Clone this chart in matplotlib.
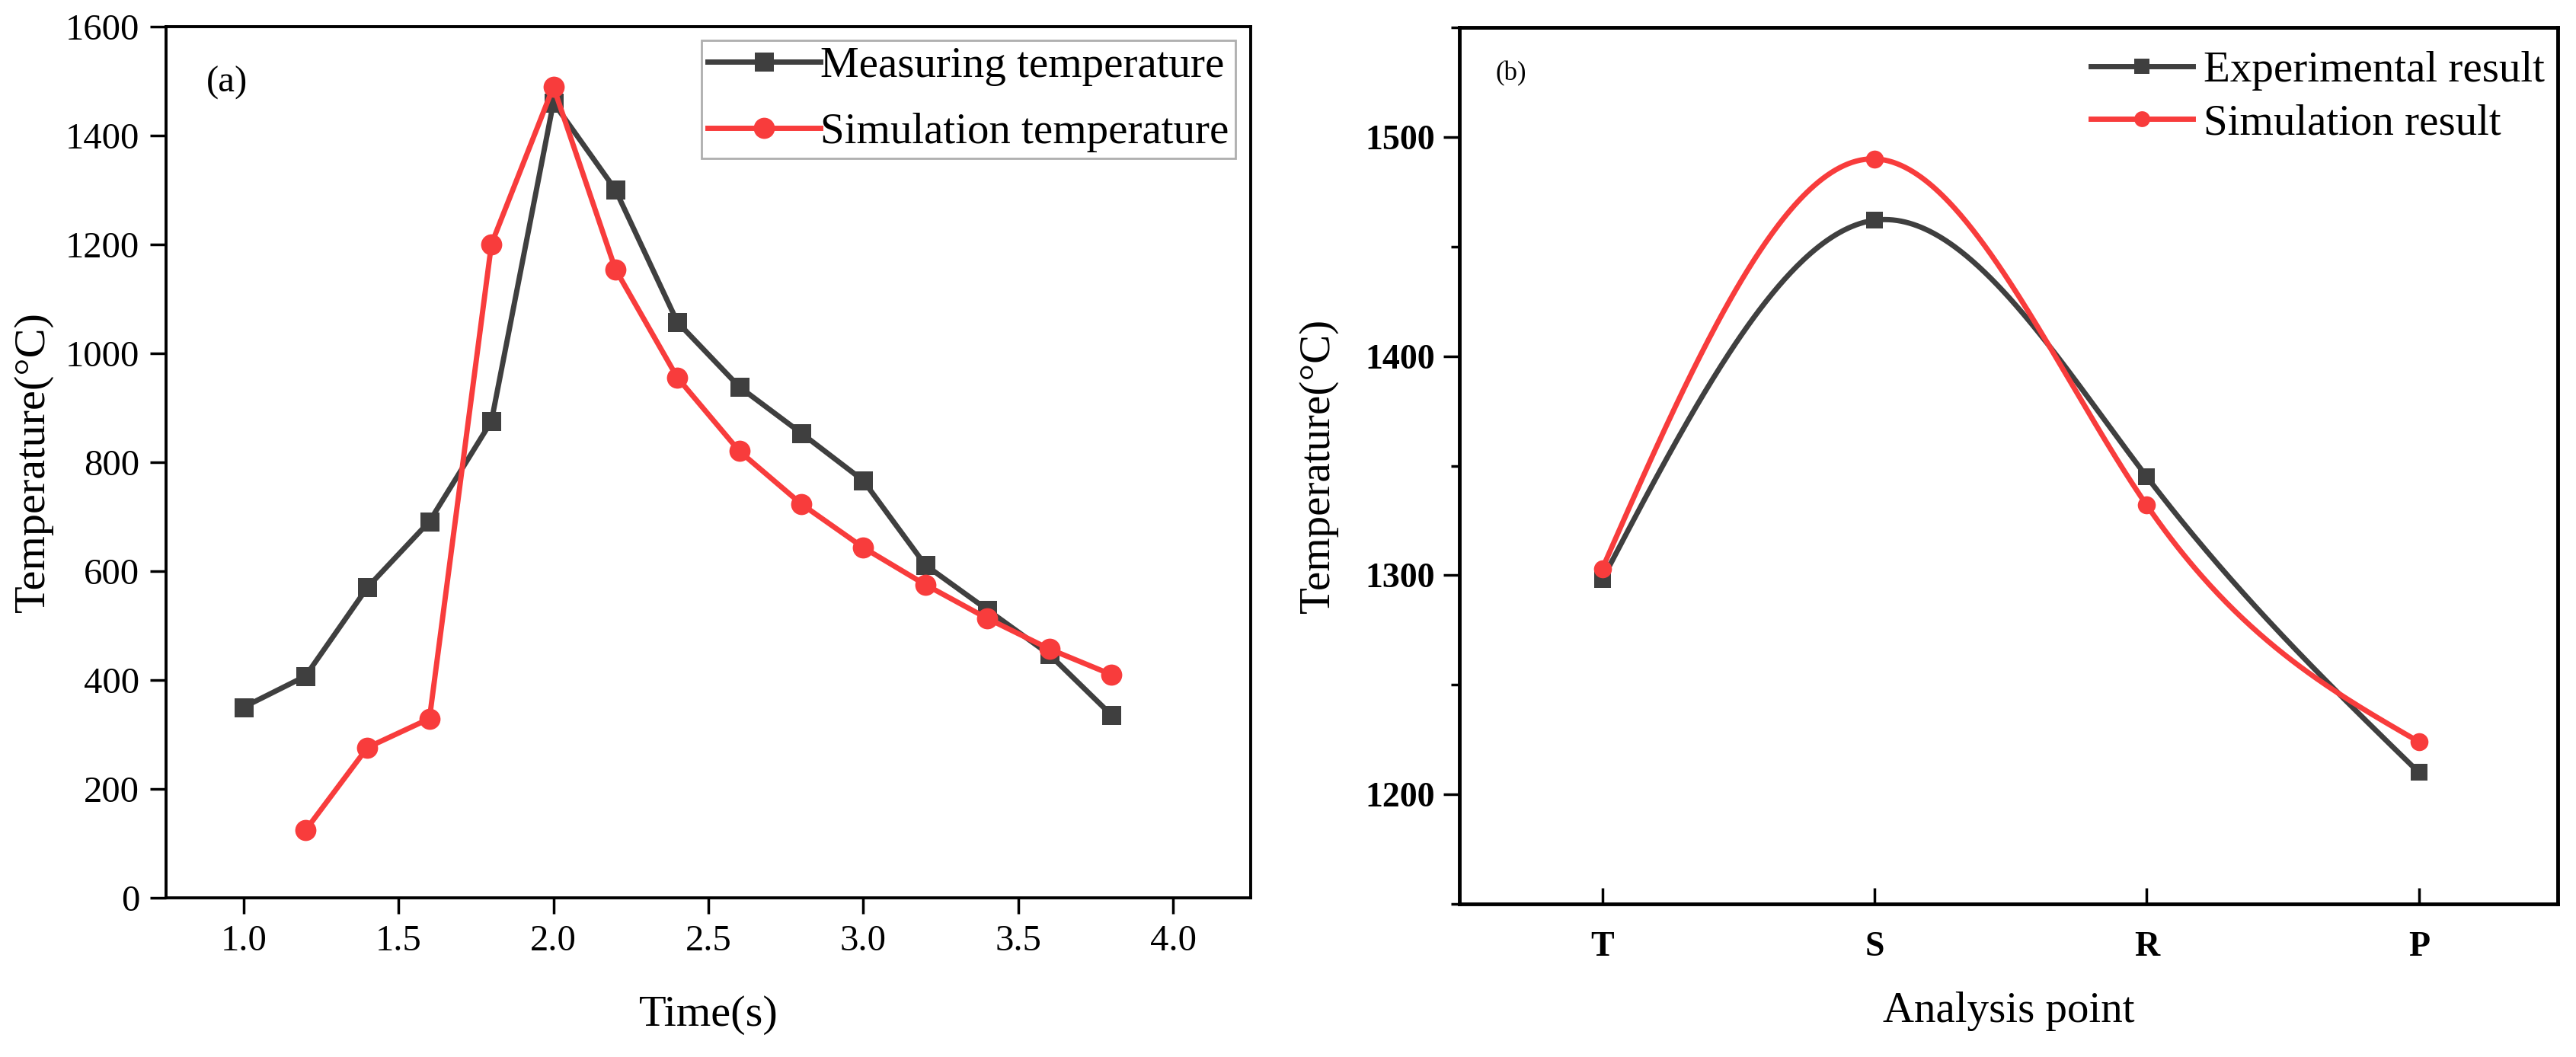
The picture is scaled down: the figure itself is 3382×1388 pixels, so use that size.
import numpy as np
import matplotlib
matplotlib.use("Agg")
import matplotlib.pyplot as plt
from matplotlib.lines import Line2D
from matplotlib.ticker import MultipleLocator

plt.rcParams['font.family'] = ['Liberation Serif', 'DejaVu Serif']
plt.rcParams['mathtext.fontset'] = 'stix'

# ---------------- data ----------------
time_meas = [1.0, 1.2, 1.4, 1.6, 1.8, 2.0, 2.2, 2.4, 2.6, 2.8, 3.0, 3.2, 3.4, 3.6, 3.8]
temp_meas = [350, 407, 570, 691, 875, 1460, 1300, 1057, 938, 853, 766, 611, 529, 447, 336]
time_sim = [1.2, 1.4, 1.6, 1.8, 2.0, 2.2, 2.4, 2.6, 2.8, 3.0, 3.2, 3.4, 3.6, 3.8]
temp_sim = [124, 276, 329, 1200, 1489, 1154, 955, 820, 723, 643, 575, 513, 457, 410]

points = ['T', 'S', 'R', 'P']
exp_result = [1298, 1462, 1345, 1210]
sim_result = [1303, 1490, 1332, 1224]

left_ticks_x = [1.0, 1.5, 2.0, 2.5, 3.0, 3.5, 4.0]
left_ticks_y = [0, 200, 400, 600, 800, 1000, 1200, 1400, 1600]
right_ticks_y = [1200, 1300, 1400, 1500]

GRAY = '#3f3f3f'
RED = '#f83c3c'


def natural_spline(x, y, xs):
    x = np.asarray(x, float)
    y = np.asarray(y, float)
    n = len(x)
    h = np.diff(x)
    A = np.zeros((n, n))
    b = np.zeros(n)
    A[0, 0] = 1
    A[-1, -1] = 1
    for i in range(1, n - 1):
        A[i, i - 1] = h[i - 1]
        A[i, i] = 2 * (h[i - 1] + h[i])
        A[i, i + 1] = h[i]
        b[i] = 6 * ((y[i + 1] - y[i]) / h[i] - (y[i] - y[i - 1]) / h[i - 1])
    M = np.linalg.solve(A, b)
    out = np.empty_like(xs)
    for k, t in enumerate(xs):
        i = min(max(np.searchsorted(x, t) - 1, 0), n - 2)
        dx1 = x[i + 1] - t
        dx0 = t - x[i]
        out[k] = (M[i] * dx1 ** 3 / (6 * h[i]) + M[i + 1] * dx0 ** 3 / (6 * h[i])
                  + (y[i] / h[i] - M[i] * h[i] / 6) * dx1
                  + (y[i + 1] / h[i] - M[i + 1] * h[i] / 6) * dx0)
    return out


W, H = 3382, 1388
fig = plt.figure(figsize=(W / 100, H / 100), dpi=100)

LW = 5.0

# ---------------- left panel ----------------
axL = fig.add_axes([218 / W, 1 - 1179 / H, 1424 / W, 1144.5 / H])
axL.plot(time_meas, temp_meas, '-s', color=GRAY, lw=LW, ms=18, mew=0,
         label='Measuring temperature')
axL.plot(time_sim, temp_sim, '-o', color=RED, lw=LW, ms=20, mew=0,
         label='Simulation temperature')
axL.set_xlim(0.75, 4.25)
axL.set_ylim(0, 1600)
axL.set_xticks(left_ticks_x)
axL.set_xticklabels([f'{v:.1f}' for v in left_ticks_x])
axL.set_yticks(left_ticks_y)
axL.tick_params(direction='out', length=15, width=2.5, labelsize=35, pad=10)
for s in axL.spines.values():
    s.set_linewidth(2.8)
axL.set_xlabel('Time(s)', fontsize=42)
axL.set_ylabel('Temperature(°C)', fontsize=42)
axL.xaxis.set_label_coords(0.5, -0.112)
axL.yaxis.set_label_coords(-0.104, 0.5)
axL.text(0.037, 0.925, '(a)', transform=axL.transAxes, fontsize=35)
legL = axL.legend(loc='upper right', bbox_to_anchor=(0.986, 0.984), fontsize=41,
                  frameon=True, fancybox=False, borderaxespad=0, borderpad=0.15,
                  handlelength=2.6, handletextpad=0.0, labelspacing=0.6,
                  markerscale=1.0)
legL.get_frame().set_edgecolor('#9a9a9a')
legL.get_frame().set_linewidth(2.0)

# ---------------- right panel ----------------
axR = fig.add_axes([1916 / W, 1 - 1187 / H, 1442 / W, 1151 / H])
xpos = np.arange(len(points))
xs = np.linspace(0, len(points) - 1, 400)
axR.plot(xs, natural_spline(xpos, exp_result, xs), color=GRAY, lw=LW)
axR.plot(xs, natural_spline(xpos, sim_result, xs), color=RED, lw=LW)
axR.plot(xpos, exp_result, 's', color=GRAY, ms=16, mew=0)
axR.plot(xpos, sim_result, 'o', color=RED, ms=17, mew=0)
axR.set_xlim(-0.525, 3.51)
axR.set_ylim(1150, 1550)
axR.set_xticks(xpos)
axR.set_xticklabels(points, fontweight='bold')
axR.set_yticks(right_ticks_y)
axR.yaxis.set_minor_locator(MultipleLocator(50))
axR.tick_params(axis='x', direction='in', length=15, width=2.5, labelsize=33, pad=26)
axR.tick_params(axis='y', which='major', direction='out', length=15, width=2.5,
                labelsize=33, pad=8)
axR.tick_params(axis='y', which='minor', direction='out', length=8, width=2.5)
for lab in axR.get_yticklabels():
    lab.set_fontweight('bold')
for s in axR.spines.values():
    s.set_linewidth(3.5)
axR.set_xlabel('Analysis point', fontsize=41)
axR.set_ylabel('Temperature(°C)', fontsize=41)
axR.xaxis.set_label_coords(0.5, -0.1)
axR.yaxis.set_label_coords(-0.11, 0.5)
axR.text(0.033, 0.94, '(b)', transform=axR.transAxes, fontsize=25)
handlesR = [Line2D([], [], color=GRAY, lw=LW, marker='s', ms=14, mew=0),
            Line2D([], [], color=RED, lw=LW, marker='o', ms=15, mew=0)]
axR.legend(handlesR, ['Experimental result', 'Simulation result'], loc='upper right',
           bbox_to_anchor=(0.992, 0.978), fontsize=41, frameon=False,
           borderaxespad=0, borderpad=0.1, handlelength=2.35, handletextpad=0.25,
           labelspacing=0.3)

fig.savefig('out.png', dpi=100)
